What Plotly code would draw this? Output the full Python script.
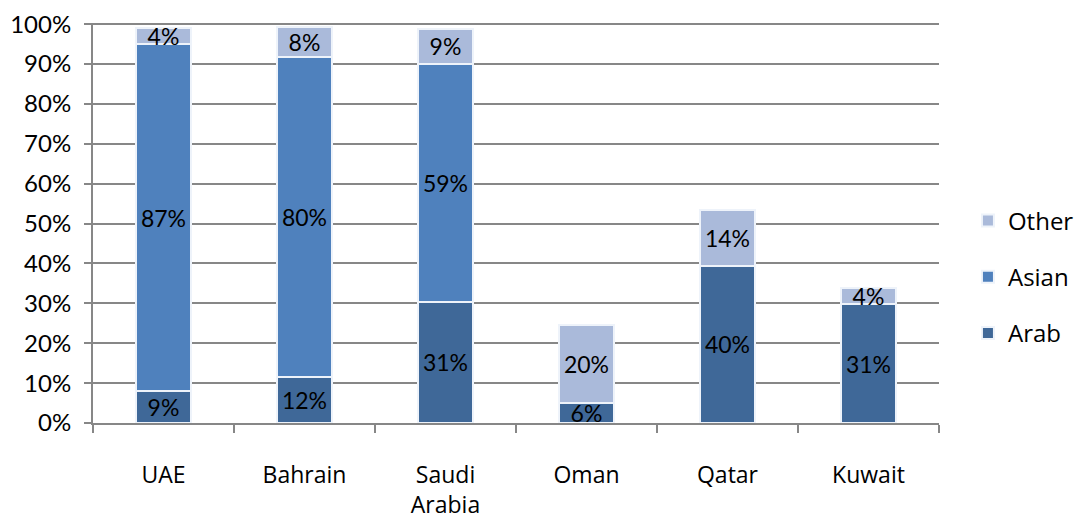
import plotly.graph_objects as go

countries = ["UAE", "Bahrain", "Saudi<br>Arabia", "Oman", "Qatar", "Kuwait"]
arab = [8.0, 11.6, 30.4, 5.0, 39.4, 29.8]
asian = [87.0, 80.3, 59.7, 0, 0, 0]
other = [4.0, 7.3, 8.8, 19.5, 13.9, 4.0]
arab_labels = ["9%", "12%", "31%", "6%", "40%", "31%"]
asian_labels = ["87%", "80%", "59%", "", "", ""]
other_labels = ["4%", "8%", "9%", "20%", "14%", "4%"]
y_ticks = [0, 10, 20, 30, 40, 50, 60, 70, 80, 90, 100]
y_tick_text = ["0%", "10%", "20%", "30%", "40%", "50%", "60%", "70%", "80%", "90%", "100%"]

NUMFONT = "Lato, Open Sans, sans-serif"
TXTFONT = "Open Sans, Lato, sans-serif"
series = [
    ("Arab", arab, arab_labels, "#3F6898", 3),
    ("Asian", asian, asian_labels, "#4F81BD", 2),
    ("Other", other, other_labels, "#AABADA", 1),
]

fig = go.Figure()
for name, vals, labels, color, rank in series:
    fig.add_trace(go.Bar(
        x=countries, y=vals, name=name, text=labels,
        textposition="inside", insidetextanchor="middle", textangle=0,
        constraintext="none", cliponaxis=False,
        textfont=dict(family=NUMFONT, size=23, color="black"),
        marker=dict(color=color, line=dict(color="#EEF3FA", width=2)),
        legendgroup=name, legendrank=rank,
    ))

# page body has an 8px margin, so margins are offset accordingly
fig.update_layout(
    barmode="stack",
    bargap=0.61,
    width=1082, height=521,
    margin=dict(l=85, r=150, t=15, b=106),
    plot_bgcolor="white", paper_bgcolor="white",
    font=dict(family=TXTFONT, size=22, color="black"),
    showlegend=True,
    legend=dict(
        traceorder="grouped", tracegroupgap=22,
        x=1.033, xanchor="left", y=0.365, yanchor="middle",
        font=dict(family=TXTFONT, size=24, color="black"),
        itemwidth=30,
    ),
    xaxis=dict(
        automargin=False,
        showline=True, linecolor="#878787", linewidth=2,
        ticks="outside", tickson="boundaries", ticklen=8, tickwidth=2, tickcolor="#878787",
        ticklabelstandoff=30,
        tickfont=dict(family=TXTFONT, size=23, color="black"),
        showgrid=False,
    ),
    yaxis=dict(
        automargin=False,
        range=[0, 100.3], tickvals=y_ticks, ticktext=y_tick_text,
        ticklabeloverflow="allow",
        showline=True, linecolor="#878787", linewidth=2,
        ticks="outside", ticklen=7, tickwidth=2, tickcolor="#878787",
        ticklabelstandoff=8,
        showgrid=True, gridcolor="#878787", gridwidth=2,
        zeroline=False,
        tickfont=dict(family=NUMFONT, size=24, color="black"),
    ),
)

fig.write_html("out.html")
